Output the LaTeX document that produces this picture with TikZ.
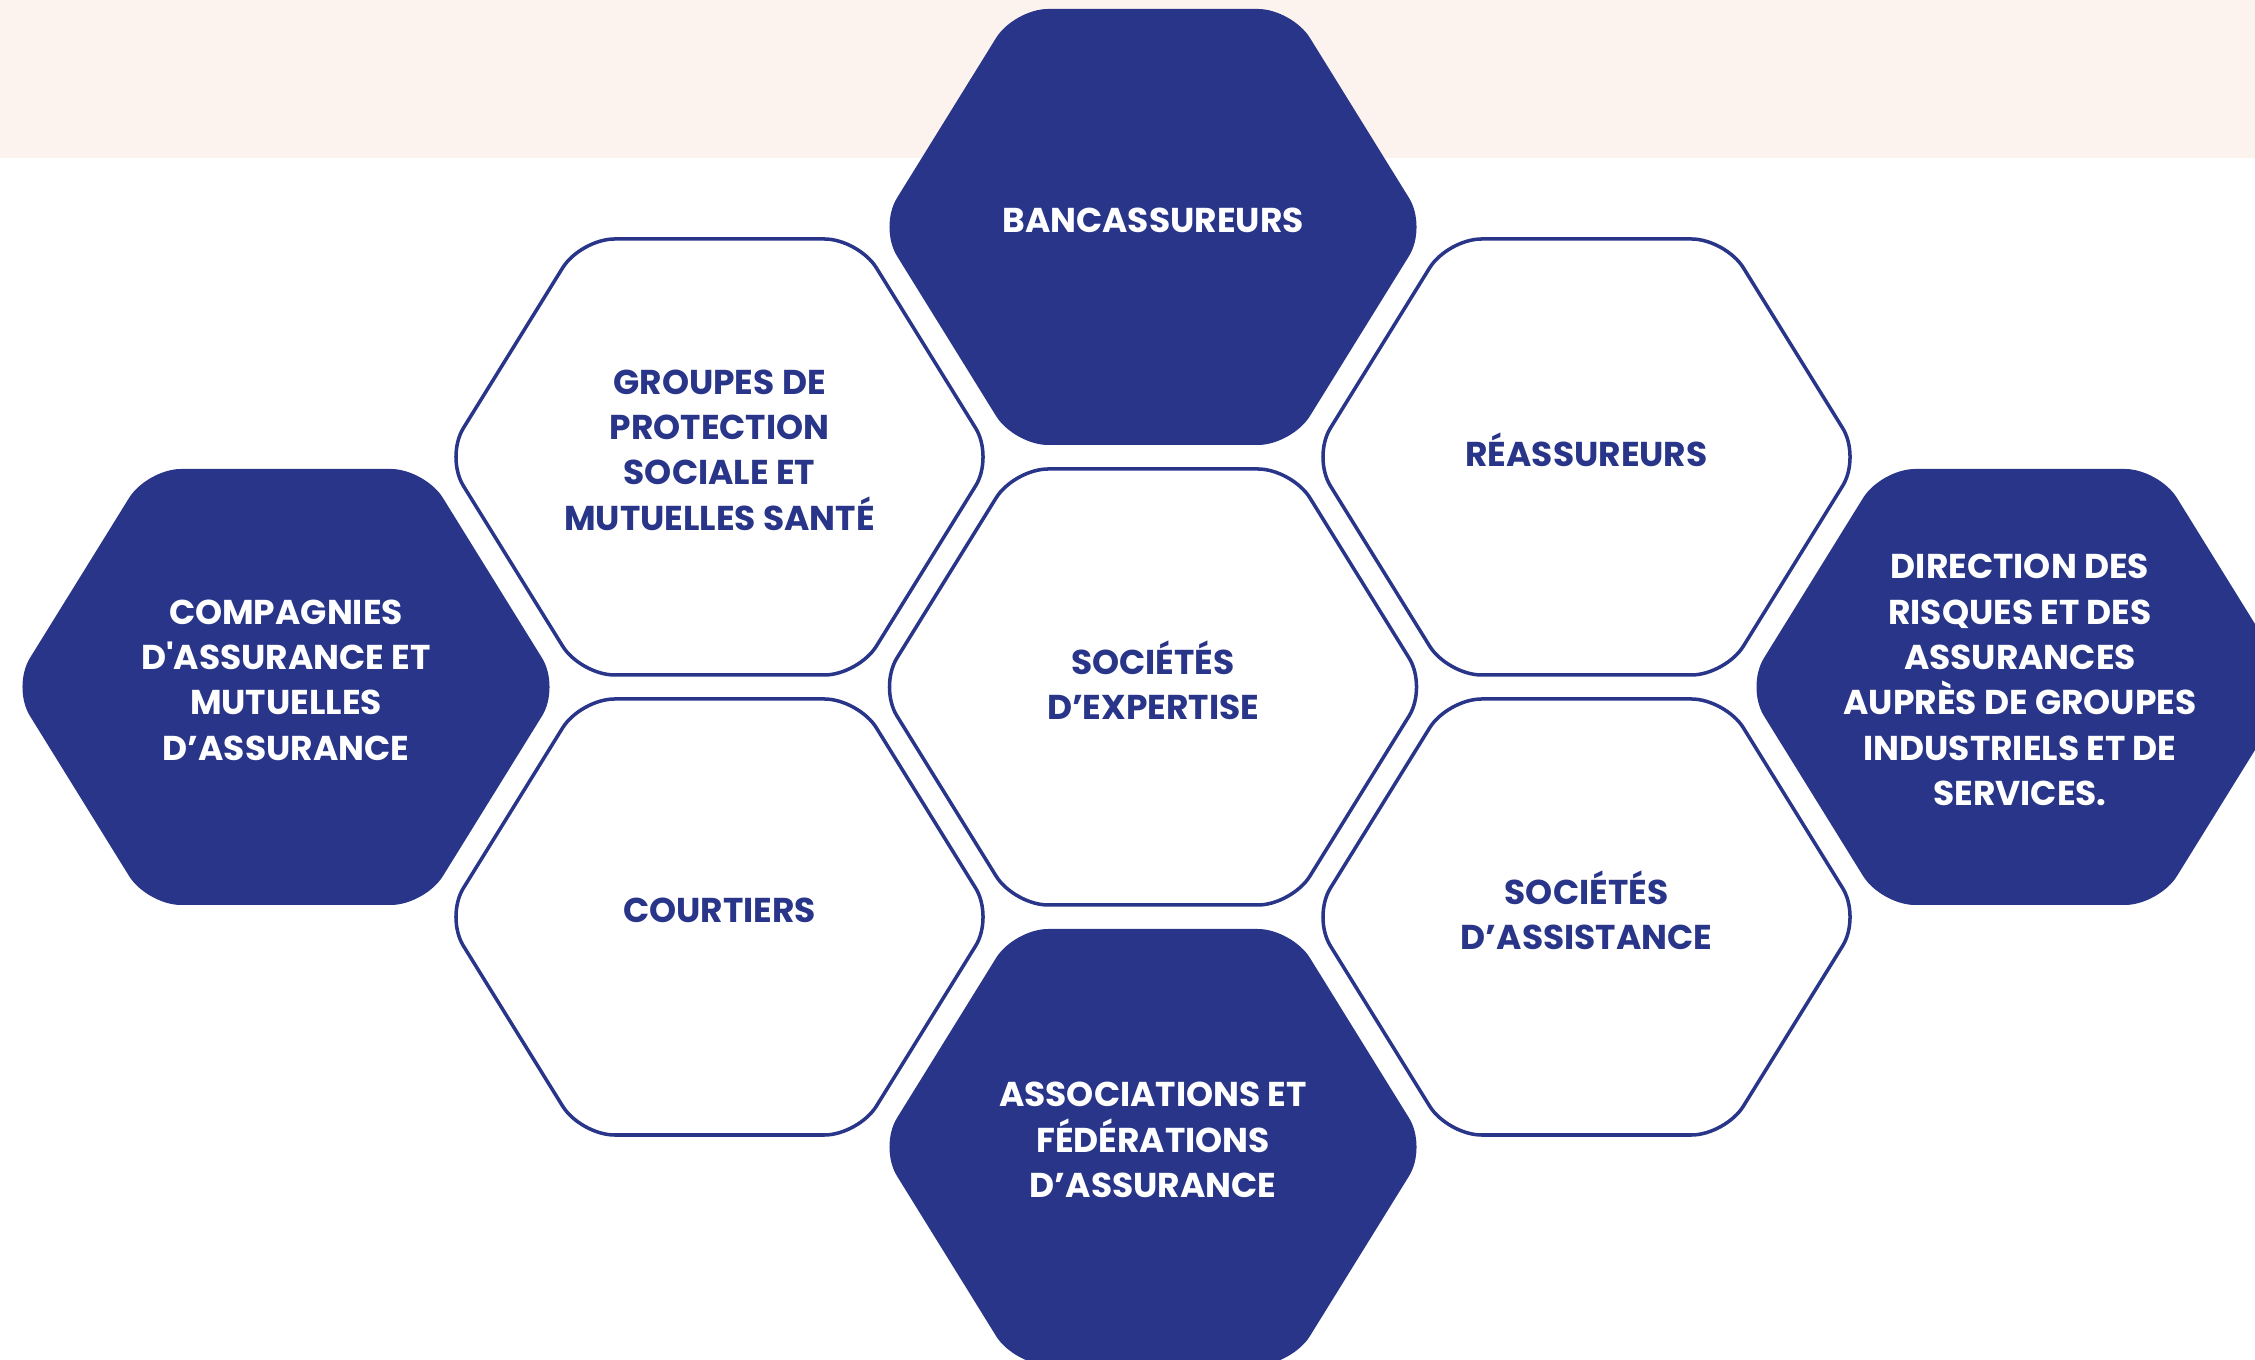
\documentclass[tikz,border=0pt]{standalone}
\usepackage{fontspec}
\setmainfont{Poppins}
\usepackage{tikz}
\definecolor{hexblue}{HTML}{283589}
\definecolor{bandpeach}{HTML}{FCF3EE}
\newcommand{\hexagon}[2]{\path[#1, shift={(#2)}] (-2.74,0) -- (-1.39,2.18) -- (1.39,2.18) -- (2.74,0) -- (1.39,-2.18) -- (-1.39,-2.18) -- cycle;}

\begin{document}
\begin{tikzpicture}[
    hexfull/.style={fill=hexblue, rounded corners=3.4mm},
    hexopen/.style={draw=hexblue, line width=1pt, fill=white, rounded corners=3.4mm},
    labfull/.style={text=white, font=\bfseries\fontsize{9.8}{12.9}\selectfont, align=center, yshift=0.7mm},
    labopen/.style={text=hexblue, font=\bfseries\fontsize{9.8}{12.9}\selectfont, align=center, yshift=0.7mm}
  ]
            \useasboundingbox (0,0) rectangle (22.55,13.6);
            \clip (0,0) rectangle (22.55,13.6);
            \fill[bandpeach] (0,12.02) rectangle (22.55,13.6);

            \hexagon{hexfull}{11.53,11.33}
            \hexagon{hexopen}{11.53,6.73}
            \hexagon{hexfull}{11.53,2.13}
            \hexagon{hexopen}{7.195,9.03}
            \hexagon{hexopen}{7.195,4.43}
            \hexagon{hexopen}{15.865,9.03}
            \hexagon{hexopen}{15.865,4.43}
            \hexagon{hexfull}{2.86,6.73}
            \hexagon{hexfull}{20.20,6.73}

            \node[labfull] (banc) at (11.53, 11.33) {BANCASSUREURS};
            \node[labopen] (expert) at (11.53, 6.73) {SOCIÉTÉS\\D’EXPERTISE};
            \node[labfull] (assoc) at (11.53, 2.13) {ASSOCIATIONS ET\\FÉDÉRATIONS\\D’ASSURANCE};
            \node[labopen] (groupes) at (7.195, 9.03) {GROUPES DE\\PROTECTION\\SOCIALE ET\\MUTUELLES SANTÉ};
            \node[labopen] (courtiers) at (7.195, 4.43) {COURTIERS};
            \node[labopen] (reass) at (15.865, 9.03) {RÉASSUREURS};
            \node[labopen] (assist) at (15.865, 4.43) {SOCIÉTÉS\\D’ASSISTANCE};
            \node[labfull] (compagnies) at (2.86, 6.73) {COMPAGNIES\\D\textquotesingle ASSURANCE ET\\MUTUELLES\\D’ASSURANCE};
            \node[labfull] (direction) at (20.20, 6.73) {DIRECTION DES\\RISQUES ET DES\\ASSURANCES\\AUPRÈS DE GROUPES\\INDUSTRIELS ET DE\\SERVICES.};
        \end{tikzpicture}
\end{document}
